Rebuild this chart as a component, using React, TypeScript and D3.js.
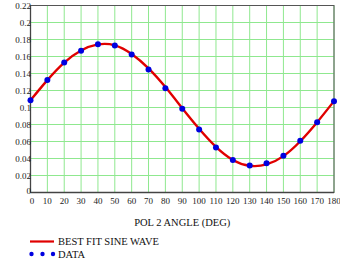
import React from "react";
import * as d3 from "d3";

const angles = [0, 10, 20, 30, 40, 50, 60, 70, 80, 90, 100, 110, 120, 130, 140, 150, 160, 170, 180];
const dataValues = [0.1085, 0.1323, 0.153, 0.1668, 0.1745, 0.173, 0.1625, 0.1448, 0.1226, 0.0985, 0.0741, 0.053, 0.0381, 0.0319, 0.0343, 0.0432, 0.0608, 0.0827, 0.1073];
const fitValues = [0.1085, 0.1322, 0.1528, 0.1670, 0.1742, 0.1732, 0.1630, 0.1460, 0.1240, 0.0992, 0.0750, 0.0537, 0.0383, 0.0314, 0.0330, 0.0428, 0.0603, 0.0827, 0.1075];
const xTicks = [0, 10, 20, 30, 40, 50, 60, 70, 80, 90, 100, 110, 120, 130, 140, 150, 160, 170, 180];
const yTicks = [0, 0.02, 0.04, 0.06, 0.08, 0.1, 0.12, 0.14, 0.16, 0.18, 0.2, 0.22];
const yTickLabels = ["0", "0.02", "0.04", "0.06", "0.08", "0.1", "0.12", "0.14", "0.16", "0.18", "0.2", "0.22"];

export default function App() {
  const W = 340, H = 259;
  const left = 30.5, right = 334, top = 5.5, bottom = 192.5;
  const x = d3.scaleLinear().domain([0, 180]).range([left, right]);
  const y = d3.scaleLinear().domain([0, 0.22]).range([bottom, top]);
  const line = d3.line<number>().x((_, i) => x(angles[i])).y((d) => y(d)).curve(d3.curveNatural);
  const font = "Times New Roman, Liberation Serif, DejaVu Serif, serif";
  return (
    <svg width={W} height={H} style={{ position: "absolute", left: 0, top: 0, background: "#fff" }}>
      <g>
        {xTicks.map((t) => (
          <line key={"gx" + t} x1={x(t)} x2={x(t)} y1={top} y2={bottom} stroke="#8fe88f" strokeWidth={1} />
        ))}
        {yTicks.map((t) => (
          <line key={"gy" + t} x1={left} x2={right} y1={y(t)} y2={y(t)} stroke="#8fe88f" strokeWidth={1} />
        ))}
        <rect x={left} y={top} width={right - left} height={bottom - top} fill="none" stroke="#555" strokeWidth={1} />
        <line x1={left} x2={left} y1={top} y2={bottom} stroke="#444" strokeWidth={1.3} />
        <line x1={left} x2={right} y1={bottom} y2={bottom} stroke="#444" strokeWidth={1.3} />
      </g>
      <path d={line(fitValues) || ""} fill="none" stroke="#e00000" strokeWidth={2.4} />
      {dataValues.map((v, i) => (
        <circle key={"p" + i} cx={x(angles[i])} cy={y(v)} r={3} fill="#0000e0" />
      ))}
      <g fontFamily={font} fontSize={9} fill="#222">
        {yTicks.map((t, i) => (
          <text key={"yl" + t} x={left + 0.5} y={y(t) + (t === 0 ? 1 : 3)} textAnchor="end">{yTickLabels[i]}</text>
        ))}
        {xTicks.map((t) => (
          <text key={"xl" + t} x={x(t) + (t === 0 ? 1.5 : 0)} y={204} textAnchor="middle">{t}</text>
        ))}
      </g>
      <text x={(left + right) / 2} y={226} textAnchor="middle" fontFamily={font} fontSize={10.5} fill="#111">POL 2 ANGLE (DEG)</text>
      <line x1={30} x2={54} y1={241.5} y2={241.5} stroke="#e00000" strokeWidth={2.2} />
      <text x={58} y={245} fontFamily={font} fontSize={10.5} fill="#111">BEST FIT SINE WAVE</text>
      {[31.5, 42.5, 53].map((cx) => (
        <circle key={"lg" + cx} cx={cx} cy={254} r={2.2} fill="#0000e0" />
      ))}
      <text x={58} y={258} fontFamily={font} fontSize={10.5} fill="#111">DATA</text>
    </svg>
  );
}
